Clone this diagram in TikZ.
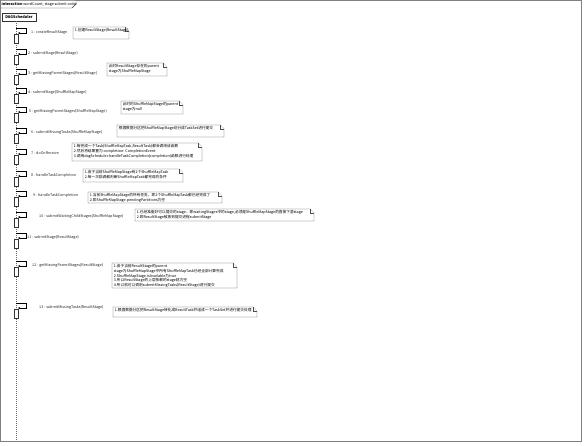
\documentclass[tikz,border=0pt]{standalone}
\usepackage{fontspec}
\setmainfont{Noto Sans CJK SC}
\usetikzlibrary{arrows.meta}
\newcommand\umlnote[6]{%
  \draw[notebox] (#2,#3) -- (#4-4,#3) -- (#4,#3+4) -- (#4,#5) -- (#2,#5) -- cycle;
  \draw[notebox] (#4-4,#3) -- (#4-4,#3+4) -- (#4,#3+4);
  \node[notetext] (#1) at (#2+1,#3+1) {#6};
}
\newcommand\selfcall[4]{%
  \coordinate (s#1) at (16,#2-4);
  \coordinate (t#1) at (18,#2+1);
  \draw[msgline] (s#1) -- ++(10,0) |- (t#1);
  \node[actbox] (act#1) at (16,#2+2) {};
  \node[msglabel] (lab#1) at (#3,#2) {#4};
}
\begin{document}
\begin{tikzpicture}[x=1pt,y=-1pt,
  txt/.style={font=\fontsize{3.7pt}{4.6pt}\selectfont},
  notebox/.style={draw=black!70, line width=0.35pt, fill=white},
  notetext/.style={txt, anchor=north west, align=left, inner sep=0.6pt},
  msgline/.style={draw=black, line width=0.35pt, -{Stealth[length=2.2pt,width=2pt]}},
  actbox/.style={draw=black!80, fill=white, line width=0.35pt, minimum width=4pt, minimum height=9pt, inner sep=0pt, anchor=north},
  msglabel/.style={txt, anchor=west, inner sep=0pt, text=black!85},
  lifeline/.style={draw=black!60, line width=0.35pt, dash pattern=on 1pt off 1pt},
  headbox/.style={draw=black!80, fill=white, line width=0.4pt, font=\fontsize{3.8pt}{4.5pt}\selectfont\bfseries, minimum width=34pt, minimum height=8pt, inner sep=0pt}
]
\useasboundingbox (0,0) rectangle (588,446);
% frame
\draw[black!50, line width=0.4pt] (0.5,0.5) rectangle (581,441);
\draw[black!80, line width=0.4pt, fill=white] (0.5,0.5) -- (76,0.5) -- (76,4) -- (72,8) -- (0.5,8) -- cycle;
\node[txt, anchor=west, inner sep=0pt] (title) at (1.5,4.3) {\textbf{interaction} wordCount\_stage submit order};
% lifeline
\node[headbox] (dag) at (19,17) {DAGScheduler};
\coordinate (lend) at (16,441);
\draw[lifeline] (16,21) -- (lend);
% messages
\selfcall{1}{32}{31}{1 : createResultStage}
\selfcall{2}{53}{28}{2 : submitStage(ResultStage)}
\selfcall{3}{73}{28}{3 : getMissingParentStages(ResultStage)}
\selfcall{4}{92}{28}{4 : submitStage(ShuffleMapStage)}
\selfcall{5}{111}{29}{5 : getMissingParentStages(ShuffleMapStage)}
\selfcall{6}{132}{31}{6 : submitMissingTasks(ShuffleMapStage)}
\selfcall{7}{153}{31}{7 : doOnReceive}
\selfcall{8}{175}{31}{8 : handleTaskCompletion}
\selfcall{9}{195}{33}{9 : handleTaskCompletion}
\selfcall{10}{216}{39}{10 : submitWaitingChildStages(ShuffleMapStage)}
\selfcall{11}{237}{27}{11 : submitStage(ResultStage)}
\selfcall{12}{265}{32}{12 : getMissingParentStages(ResultStage)}
\selfcall{13}{307}{39}{13 : submitMissingTasks(ResultStage)}
% notes
\umlnote{n1}{73}{27}{129}{39}{1.创建ResultStage(ResultStage)}
\umlnote{n3}{107}{63}{167}{76}{此时ResultStage存在的parent\\stage为ShuffleMapStage}
\umlnote{n5}{121}{101}{183}{114}{此时的ShuffleMapStage的parent\\stage为null}
\umlnote{n6}{117}{125}{224}{137}{根据数据分区把ShuffleMapStage划分成TaskSet进行提交}
\umlnote{n7}{72}{143}{202}{161}{1.每完成一个Task(ShuffleMapTask,ResultTask)都会调用该函数\\2.然后将结果置为 completion: CompletionEvent\\3.调用dagScheduler.handleTaskCompletion(completion)函数进行处理}
\umlnote{n8}{83}{169}{183}{182}{1.由于当前ShuffleMapStage有2个ShuffleMapTask\\2.每一次回调都判断ShuffleMapTask都完成的条件}
\umlnote{n9}{88}{192}{222}{203}{1.当前ShuffleMapStage的所有任务，即2个ShuffleMapTask都已经完成了\\2.即ShuffleMapStage.pendingPartitions为空}
\umlnote{n10}{135}{209}{314}{221}{1.已经准备好可以提交的stage，即waitingStages中的stage,必须是ShuffleMapStage的直接下游stage\\2.即ResultStage被放到提交进程submitStage}
\umlnote{n12}{112}{263}{237}{288}{1.由于当前ResultStage的parent\\stage为ShuffleMapStage中所有ShuffleMapTask已经全部计算完成\\2.ShuffleMapStage.isAvailable为true\\3.所以ResultStage的上层依赖的stage就为空\\4.所以就可以调用submitMissingTasks(ResultStage)进行提交}
\umlnote{n13}{113}{307}{257}{317}{1.根据数据分区把ResultStage转化成ResultTask并组成一个TaskSet并进行提交处理}
\end{tikzpicture}
\end{document}
